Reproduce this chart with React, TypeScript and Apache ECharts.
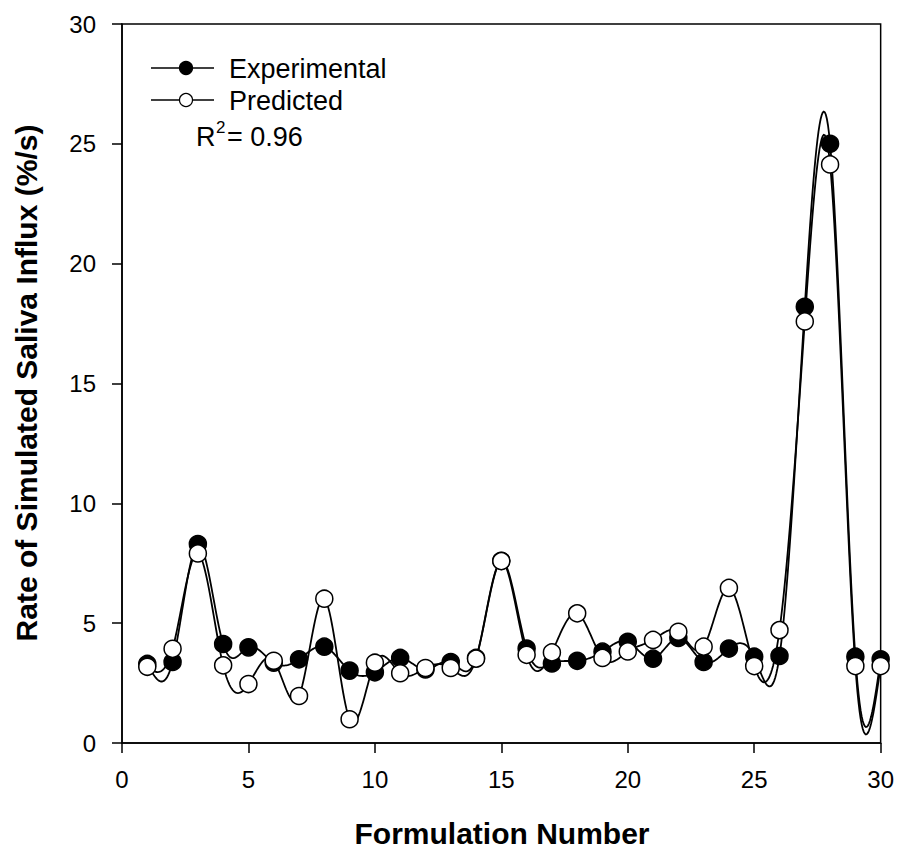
import React, { useEffect, useRef } from 'react';
import * as echarts from 'echarts';

const formulation = [
  1, 2, 3, 4, 5, 6, 7, 8, 9, 10, 11, 12, 13, 14, 15,
  16, 17, 18, 19, 20, 21, 22, 23, 24, 25, 26, 27, 28, 29, 30,
];
const experimental = [
  3.3, 3.38, 8.3, 4.13, 3.99, 3.35, 3.49, 4.02, 3.02, 2.95, 3.55, 3.07, 3.38, 3.55, 7.6,
  3.94, 3.32, 3.43, 3.81, 4.22, 3.52, 4.38, 3.38, 3.94, 3.6, 3.63, 18.2, 25.0, 3.6, 3.49,
];
const predicted = [
  3.18, 3.93, 7.91, 3.24, 2.46, 3.43, 1.96, 6.02, 0.99, 3.35, 2.91, 3.13, 3.13, 3.52, 7.59,
  3.68, 3.78, 5.41, 3.55, 3.82, 4.3, 4.64, 4.02, 6.47, 3.21, 4.71, 17.59, 24.14, 3.21, 3.21,
];
const xTicks = [0, 5, 10, 15, 20, 25, 30];
const yTicks = [0, 5, 10, 15, 20, 25, 30];

const FONT = "'Liberation Sans', Arial, sans-serif";

// natural cubic spline second derivatives (general spacing)
function splineM(xs: number[], ys: number[]): number[] {
  const n = xs.length;
  const M = new Array(n).fill(0);
  const m = n - 2;
  const cp: number[] = new Array(m);
  const dp: number[] = new Array(m);
  for (let k = 0; k < m; k++) {
    const i = k + 1;
    const h0 = xs[i] - xs[i - 1];
    const h1 = xs[i + 1] - xs[i];
    const a = h0, b = 2 * (h0 + h1), c = h1;
    const rhs = 6 * ((ys[i + 1] - ys[i]) / h1 - (ys[i] - ys[i - 1]) / h0);
    const denom = b - (k > 0 ? a * cp[k - 1] : 0);
    cp[k] = c / denom;
    dp[k] = (rhs - (k > 0 ? a * dp[k - 1] : 0)) / denom;
  }
  for (let k = m - 1; k >= 0; k--) {
    M[k + 1] = dp[k] - cp[k] * M[k + 2];
  }
  return M;
}

function splineSeries(xs: number[], ys: number[], z: number) {
  const M = splineM(xs, ys);
  return {
    type: 'custom',
    silent: true,
    z,
    clip: true,
    data: xs.slice(0, -1).map((x, i) => [x, ys[i]]),
    encode: { x: 0, y: 1 },
    renderItem: (params: any, api: any) => {
      const i = params.dataIndex;
      const h = xs[i + 1] - xs[i];
      const pts: number[][] = [];
      const steps = 24;
      for (let s = 0; s <= steps; s++) {
        const t = s / steps;
        const A = 1 - t;
        const B = t;
        const y =
          A * ys[i] + B * ys[i + 1] +
          ((A * A * A - A) * M[i] + (B * B * B - B) * M[i + 1]) * (h * h) / 6;
        pts.push(api.coord([xs[i] + t * h, y]));
      }
      return {
        type: 'polyline',
        shape: { points: pts },
        style: { stroke: '#000', lineWidth: 1.8, fill: 'none' },
      };
    },
  };
}

export default function App() {
  const ref = useRef<HTMLDivElement>(null);
  useEffect(() => {
    if (!ref.current) return;
    const chart = echarts.init(ref.current, undefined, { renderer: 'svg' });
    const option: any = {
      animation: false,
      backgroundColor: '#fff',
      grid: {
        left: 122, right: 15, top: 24, bottom: 109,
        show: true, borderColor: '#000', borderWidth: 1.5, backgroundColor: 'transparent',
      },
      xAxis: {
        type: 'value', min: xTicks[0], max: xTicks[xTicks.length - 1], interval: 5,
        axisLine: { show: true, lineStyle: { color: '#000', width: 1.5 } },
        axisTick: { show: true, inside: false, length: 10, lineStyle: { color: '#000', width: 1.5 } },
        axisLabel: { color: '#000', fontSize: 24, fontFamily: FONT, margin: 24 },
        splitLine: { show: false },
      },
      yAxis: {
        type: 'value', min: yTicks[0], max: yTicks[yTicks.length - 1], interval: 5,
        axisLine: { show: true, lineStyle: { color: '#000', width: 1.5 } },
        axisTick: { show: true, inside: false, length: 10, lineStyle: { color: '#000', width: 1.5 } },
        axisLabel: { color: '#000', fontSize: 24, fontFamily: FONT, margin: 26 },
        splitLine: { show: false },
      },
      series: [
        splineSeries(formulation, experimental, 1),
        splineSeries(formulation, predicted, 2),
        {
          type: 'scatter', name: 'Experimental', z: 3,
          data: formulation.map((x, i) => [x, experimental[i]]),
          symbol: 'circle', symbolSize: 17,
          itemStyle: { color: '#000', borderColor: '#000', borderWidth: 1.5, opacity: 1 },
        },
        {
          type: 'scatter', name: 'Predicted', z: 4,
          data: formulation.map((x, i) => [x, predicted[i]]),
          symbol: 'circle', symbolSize: 17,
          itemStyle: { color: '#fff', borderColor: '#000', borderWidth: 1.5, opacity: 1 },
        },
      ],
      graphic: [
        { type: 'line', shape: { x1: 151, y1: 68, x2: 214, y2: 68 }, style: { stroke: '#000', lineWidth: 1.5 } },
        { type: 'circle', shape: { cx: 186, cy: 68, r: 6.5 }, style: { fill: '#000', stroke: '#000', lineWidth: 1.2 } },
        { type: 'text', x: 229, y: 69, style: { text: 'Experimental', font: `27px ${FONT}`, fill: '#000', verticalAlign: 'middle' } },
        { type: 'line', shape: { x1: 151, y1: 100, x2: 214, y2: 100 }, style: { stroke: '#000', lineWidth: 1.5 } },
        { type: 'circle', shape: { cx: 186, cy: 100, r: 6.5 }, style: { fill: '#fff', stroke: '#000', lineWidth: 1.2 } },
        { type: 'text', x: 229, y: 101, style: { text: 'Predicted', font: `27px ${FONT}`, fill: '#000', verticalAlign: 'middle' } },
        { type: 'text', x: 196, y: 137, style: { text: 'R', font: `27px ${FONT}`, fill: '#000', verticalAlign: 'middle' } },
        { type: 'text', x: 216, y: 127, style: { text: '2', font: `17px ${FONT}`, fill: '#000', verticalAlign: 'middle' } },
        { type: 'text', x: 227, y: 137, style: { text: '= 0.96', font: `27px ${FONT}`, fill: '#000', verticalAlign: 'middle' } },
        {
          type: 'text', x: 26, y: 383, rotation: Math.PI / 2,
          style: { text: 'Rate of Simulated Saliva Influx (%/s)', font: `bold 30px ${FONT}`, fill: '#000', align: 'center', verticalAlign: 'middle' },
        },
        {
          type: 'text', x: 502, y: 833,
          style: { text: 'Formulation Number', font: `bold 30px ${FONT}`, fill: '#000', align: 'center', verticalAlign: 'middle' },
        },
      ],
    };
    chart.setOption(option);
    return () => chart.dispose();
  }, []);
  return <div ref={ref} style={{ width: 897, height: 852, position: 'absolute', left: 0, top: 0 }} />;
}
